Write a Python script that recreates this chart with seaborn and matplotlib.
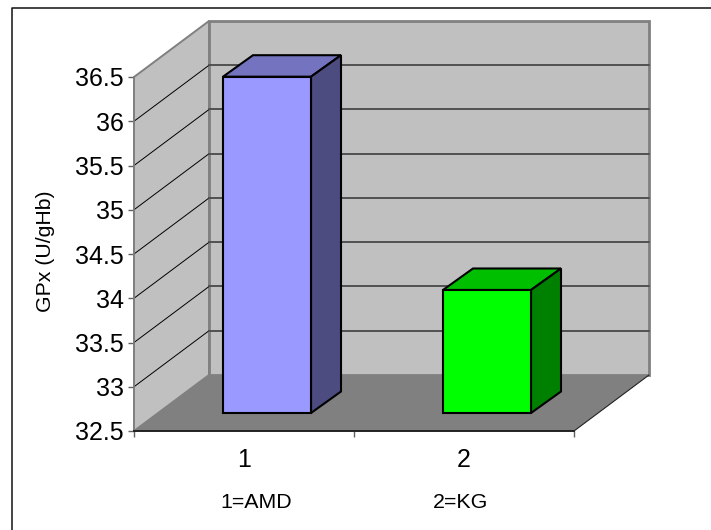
import matplotlib
matplotlib.use("Agg")
import matplotlib.pyplot as plt
from matplotlib.lines import Line2D
import pandas as pd
import seaborn as sns

# values
groups = ["1", "2"]
gpx = [36.3, 33.89]
y_ticks = [32.5, 33, 33.5, 34, 34.5, 35, 35.5, 36, 36.5]
y_labels = ["32.5", "33", "33.5", "34", "34.5", "35", "35.5", "36", "36.5"]
front_colors = ["#9999FF", "#00FF00"]
top_colors = ["#7373BF", "#00BF00"]
side_colors = ["#4C4C80", "#008000"]
notes = ["1=AMD", "2=KG"]

W, H = 711, 530
BASE = 32.5
TOP = 36.5
# depth of the fake 3d box, in data units
px_x = 2 / 440
px_y = (TOP - BASE) / 354
DX, DY = 75 * px_x, 56 * px_y
BAR_DX, BAR_DY = 23 * px_x, 18 * px_y
SIDE_DX, SIDE_DY = 30 * px_x, 21.5 * px_y

sns.set_theme(style="white")
plt.rcParams["font.family"] = ["Liberation Sans", "DejaVu Sans"]

fig = plt.figure(figsize=(W / 100, H / 100), dpi=100)
ax = fig.add_axes([134 / W, 1 - 431 / H, 440 / W, 354 / H])

df = pd.DataFrame({"group": groups, "gpx": gpx})
sns.barplot(data=df, x="group", y="gpx", hue="group", palette=front_colors,
            legend=False, width=0.4, saturation=1, ax=ax)

x0, x1 = -0.5, 1.5

# walls and floor
ax.fill([x0, x0 + DX, x0 + DX, x0], [BASE, BASE + DY, TOP + DY, TOP],
        color="#C0C0C0", ec="#808080", lw=1.4, zorder=0, clip_on=False)
ax.fill([x0 + DX, x1 + DX, x1 + DX, x0 + DX], [BASE + DY, BASE + DY, TOP + DY, TOP + DY],
        color="#C0C0C0", ec="#808080", lw=2, zorder=0.1, clip_on=False)
ax.fill([x0, x1, x1 + DX, x0 + DX], [BASE, BASE, BASE + DY, BASE + DY],
        color="#808080", ec="none", zorder=0.2, clip_on=False)
ax.plot([x1, x1 + DX], [BASE, BASE + DY], color="#222222", lw=0.8, zorder=0.3, clip_on=False)

# gridlines
for v in y_ticks[1:-1]:
    ax.plot([x0, x0 + DX], [v, v + DY], color="black", lw=0.7, zorder=0.4, clip_on=False)
    ax.plot([x0 + DX, x1 + DX], [v + DY, v + DY], color="#505050", lw=1.4, zorder=0.4, clip_on=False)

# seaborn bars become the front faces, top and side get added
for i, bar in enumerate(ax.patches[:len(groups)]):
    left = bar.get_x() + BAR_DX
    right = left + bar.get_width()
    bottom = BASE + BAR_DY
    top = bottom + gpx[i] - BASE
    bar.set_x(left)
    bar.set_y(bottom)
    bar.set_height(top - bottom)
    bar.set_edgecolor("black")
    bar.set_linewidth(1.5)
    bar.set_zorder(3)
    bar.set_clip_on(False)
    ax.fill([left, right, right + SIDE_DX, left + SIDE_DX],
            [top, top, top + SIDE_DY, top + SIDE_DY],
            fc=top_colors[i], ec="black", lw=1.5, zorder=2.5, clip_on=False)
    ax.fill([right, right + SIDE_DX, right + SIDE_DX, right],
            [bottom, bottom + SIDE_DY, top + SIDE_DY, top],
            fc=side_colors[i], ec="black", lw=1.5, zorder=2.5, clip_on=False)

ax.set_xlim(x0, x1)
ax.set_ylim(BASE, TOP)

ax.set_xticks([-0.5, 0.5, 1.5])
ax.set_xticklabels([])
ax.set_xticks([0, 1], minor=True)
ax.set_xticklabels(groups, minor=True, fontsize=18)
ax.tick_params(axis="x", which="major", bottom=True, length=4.5, width=1, color="#606060")
ax.tick_params(axis="x", which="minor", bottom=False, length=0, pad=12, colors="black")
ax.set_yticks(y_ticks)
ax.set_yticklabels(y_labels, fontsize=18)
ax.tick_params(axis="y", left=True, length=4.5, width=1, color="#606060", pad=3, labelcolor="black")
ax.set_xlabel("")
ax.set_ylabel("GPx (U/gHb)", fontsize=15.3, color="black")
ax.yaxis.set_label_coords((55 - 134) / 440, (431 - 251) / 354)

sns.despine(ax=ax, top=True, right=True)
ax.spines["left"].set_color("#808080")
ax.spines["left"].set_linewidth(1.2)
ax.spines["bottom"].set_color("#222222")
ax.spines["bottom"].set_linewidth(1.4)
for s in ax.spines.values():
    s.set_zorder(1)

fig.text(256 / W, 1 - 503 / H, notes[0], fontsize=15.4, ha="center", va="center", color="black")
fig.text(461 / W, 1 - 503 / H, notes[1], fontsize=15.4, ha="center", va="center", color="black")

# outer frame, only left and top are visible in the picture
fig.add_artist(Line2D([12 / W, 12 / W, 1], [0, 1 - 8 / H, 1 - 8 / H], color="#111111", lw=1.1))

fig.savefig("out.png", dpi=100)
